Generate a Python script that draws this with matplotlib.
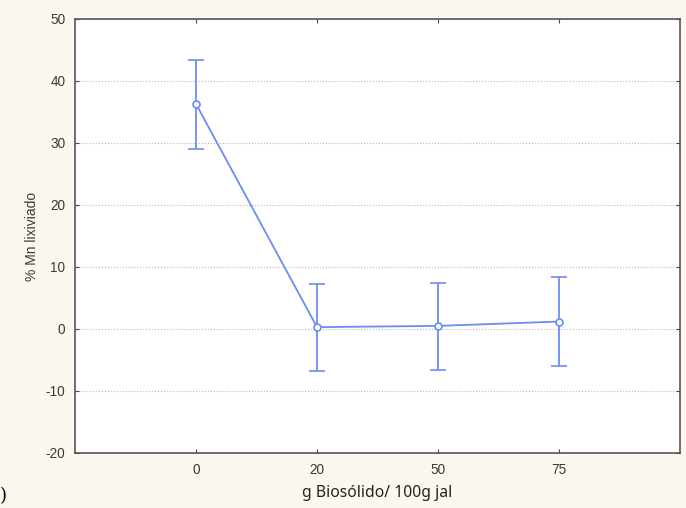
import numpy as np
import matplotlib.pyplot as plt

plt.rcParams["axes.unicode_minus"] = False

# === Data ===
doses = ["0", "20", "50", "75"]
mn_mean = [36.3, 0.3, 0.5, 1.2]
err_low = [29.0, -6.8, -6.6, -6.0]
err_high = [43.4, 7.3, 7.5, 8.4]

x = np.arange(len(doses))
lower = np.array(mn_mean) - np.array(err_low)
upper = np.array(err_high) - np.array(mn_mean)

blue = "#6b8cf5"

fig = plt.figure(figsize=(6.86, 5.08), dpi=100, facecolor="#fdf8ef")
ax = fig.add_axes([75 / 686, 1 - 453 / 508, 605 / 686, 434 / 508])
ax.set_facecolor("white")

ax.errorbar(x, mn_mean, yerr=[lower, upper], color=blue, lw=1.3,
            capsize=6, capthick=1.3, marker="o", ms=5,
            mfc="white", mec=blue, mew=1.2, zorder=3)

ax.set_xlim(-1, 4)
ax.set_ylim(-20, 50)
ax.set_xticks(x)
ax.set_xticklabels(doses)
ax.set_yticks(np.arange(-20, 51, 10))

ax.grid(True, axis="y", linestyle=":", color="#b8b8b8", lw=0.8)
ax.tick_params(direction="in", length=3, labelsize=9.8, color="#444444",
               top=True, right=True, labelcolor="#3a3a3a", pad=7)
for s in ax.spines.values():
    s.set_color("#555555")
    s.set_linewidth(1.2)

for lab in ax.get_xticklabels() + ax.get_yticklabels():
    lab.set_family("Liberation Sans")

ax.set_ylabel("% Mn lixiviado", fontsize=10, family="Liberation Sans",
              color="#3a3a3a", labelpad=5)
ax.set_xlabel("g Biosólido/ 100g jal", fontsize=11.3, family="Noto Sans",
              color="#222222", labelpad=6)

fig.text(0.0, 0.005, ")", fontsize=13, family="DejaVu Serif", ha="left", va="bottom")

fig.savefig("out.png", dpi=100, facecolor=fig.get_facecolor())
